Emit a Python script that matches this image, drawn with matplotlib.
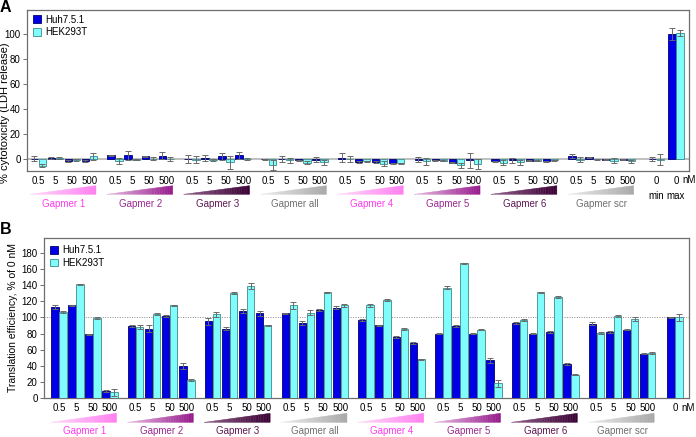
import numpy as np
import matplotlib
matplotlib.use('Agg')
import matplotlib.pyplot as plt
import matplotlib.transforms as mtransforms
from matplotlib.collections import PolyCollection
from matplotlib.colors import LinearSegmentedColormap

plt.rcParams['font.family'] = ['Liberation Sans', 'DejaVu Sans']

# ---- data ----
groups = ['Gapmer 1', 'Gapmer 2', 'Gapmer 3', 'Gapmer all',
          'Gapmer 4', 'Gapmer 5', 'Gapmer 6', 'Gapmer scr']
conc = ['0.5', '5', '50', '500']

# panel A: % cytotoxicity (LDH release), rows = gapmers, cols = conc
ldh_huh = [[0.0, 0.8, -1.6, -1.6],
           [2.9, 2.9, 2.1, 2.7],
           [0.0, 0.8, 2.0, 2.9],
           [-0.3, 0.0, -1.2, -0.8],
           [1.0, -2.5, -2.5, -3.5],
           [-0.5, -1.0, -3.0, -1.0],
           [-2.0, -1.0, -1.5, -2.0],
           [2.1, 1.3, -0.5, -0.7]]
ldh_huh_err = [[2.0, 0.5, 0.5, 0.5],
               [0.5, 3.7, 0.5, 3.0],
               [3.5, 2.5, 3.0, 3.0],
               [0.5, 2.5, 0.5, 2.0],
               [3.5, 0.5, 0.5, 0.5],
               [2.0, 0.5, 0.5, 6.0],
               [0.5, 2.0, 0.5, 0.5],
               [1.5, 0.5, 0.5, 0.5]]
ldh_hek = [[-5.3, 0.8, -0.8, 2.1],
           [-1.6, -0.5, 0.3, 0.0],
           [-0.5, -0.8, -2.7, 0.0],
           [-4.5, -1.0, -3.0, -2.5],
           [0.0, -2.0, -4.0, -3.5],
           [-2.0, -1.5, -5.0, -4.0],
           [-3.0, -2.5, -1.5, -1.0],
           [-0.5, -0.3, -1.5, -2.0]]
ldh_hek_err = [[1.5, 0.5, 0.5, 3.0],
               [2.5, 0.5, 1.0, 1.5],
               [3.0, 0.5, 5.0, 1.0],
               [4.0, 2.0, 1.0, 2.0],
               [2.5, 0.5, 2.0, 0.5],
               [3.0, 0.5, 2.0, 4.0],
               [2.0, 2.0, 0.5, 0.5],
               [2.0, 0.5, 2.0, 1.5]]
ldh_ctrl_labels = ['min', 'max']
ldh_ctrl_huh = [0.0, 100.0]
ldh_ctrl_huh_err = [1.5, 5.0]
ldh_ctrl_hek = [-0.5, 100.5]
ldh_ctrl_hek_err = [4.5, 2.5]

# panel B: translation efficiency, % of 0 nM
te_huh = [[113, 115, 79, 9],
          [89, 86, 102, 40],
          [95, 86, 108, 105],
          [105, 93, 109, 112],
          [97, 90, 76, 68],
          [80, 89, 80, 47],
          [93, 80, 82, 42],
          [92, 82, 85, 55]]
te_huh_err = [[2.5, 1, 1, 1], [1, 4, 1, 4], [4, 2, 2, 3], [1, 2, 1, 2],
              [1, 1, 1, 1], [1, 1, 1, 3], [1, 1, 1, 1], [2, 1, 1, 1]]
te_hek = [[107, 141, 99, 7],
          [88, 104, 115, 22],
          [104, 130, 139, 90],
          [115, 106, 131, 115],
          [115, 122, 86, 48],
          [137, 167, 85, 18],
          [97, 131, 125, 29],
          [81, 102, 98, 56]]
te_hek_err = [[1.5, 1, 1, 4], [2, 1, 1, 1.5], [3, 1, 4, 1], [4, 3, 1, 2],
              [2, 1, 1, 1], [2, 1, 1, 4], [1, 1, 1, 1], [1, 1, 2, 1]]
te_ctrl_huh = [100]
te_ctrl_huh_err = [1]
te_ctrl_hek = [100]
te_ctrl_hek_err = [4]

# ---- styles ----
c_huh = '#0000e6'
c_huh_edge = '#00006e'
c_hek = '#80fcfc'
c_hek_edge = '#3f8a8a'
ramp_light = ['#ffd9fa', '#e6b8e2', '#8c5a86', '#ececec'] * 2
ramp_dark = ['#ff7ef0', '#961a8c', '#3a0034', '#a8a8a8'] * 2
label_cols = ['#ff3cf0', '#9a2a90', '#5c1a52', '#707070'] * 2
fs = 7
w = 0.43
d = 0.235
x_conc = np.array([g * 4.5 + c for g in range(len(groups)) for c in range(len(conc))], dtype=float)


def bars(ax, x, huh, huh_err, hek, hek_err, legend=True):
    lab1, lab2 = ('Huh7.5.1', 'HEK293T') if legend else ('_nolegend_', '_nolegend_')
    ax.bar(x - d, huh, w, color=c_huh, edgecolor=c_huh_edge, linewidth=0.6, zorder=3, label=lab1)
    ax.bar(x + d, hek, w, color=c_hek, edgecolor=c_hek_edge, linewidth=0.6, zorder=3, label=lab2)
    kw = dict(fmt='none', ecolor='#6a6a6a', elinewidth=0.7, capsize=2.3, capthick=0.7, zorder=4)
    ax.errorbar(x - d, huh, yerr=huh_err, **kw)
    ax.errorbar(x + d, hek, yerr=hek_err, **kw)


def ramps(ax, y_bot, y_top, y_txt):
    tr = mtransforms.blended_transform_factory(ax.transData, ax.transAxes)
    n = 40
    for g, name in enumerate(groups):
        x0 = g * 4.5 - 0.48
        x1 = g * 4.5 + 3.38
        cmap = LinearSegmentedColormap.from_list('r', [ramp_light[g], ramp_dark[g]])
        xs = np.linspace(x0, x1, n + 1)
        ys = y_bot + (y_top - y_bot) * (xs - x0) / (x1 - x0)
        polys = [[(xs[i], y_bot), (xs[i + 1], y_bot), (xs[i + 1], ys[i + 1]), (xs[i], ys[i])] for i in range(n)]
        cols = cmap(np.linspace(0, 1, n))
        pc = PolyCollection(polys, facecolors=cols, edgecolors=cols, linewidths=0.3,
                            transform=tr, clip_on=False)
        ax.add_collection(pc, autolim=False)
        ax.text(g * 4.5 + 1.5, y_txt, name, color=label_cols[g], fontsize=fs,
                ha='center', va='center', transform=tr)


def style(ax):
    for s in ax.spines.values():
        s.set_color('#6e6e6e')
        s.set_linewidth(0.9)
    ax.tick_params(axis='y', length=3, width=0.7, color='#6e6e6e', labelsize=fs, pad=1.5)
    ax.tick_params(axis='x', length=0, labelsize=fs, pad=3.8)


fig = plt.figure(figsize=(6.96, 4.37), dpi=100)

# ---- panel A ----
axA = fig.add_axes([27 / 696, 1 - 171 / 437, 662 / 696, 161 / 437])
axA.axhline(0, color='#b4b4b4', lw=1.2, zorder=1)
bars(axA, x_conc, np.ravel(ldh_huh), np.ravel(ldh_huh_err), np.ravel(ldh_hek), np.ravel(ldh_hek_err))
xA_ctrl = np.array([36.2, 37.35])
bars(axA, xA_ctrl, ldh_ctrl_huh, ldh_ctrl_huh_err, ldh_ctrl_hek, ldh_ctrl_hek_err, legend=False)
axA.set_xlim(-0.66, 38.12)
axA.set_ylim(-9.6, 119)
axA.set_yticks(np.arange(0, 101, 20))
axA.set_xticks(np.concatenate([x_conc, xA_ctrl]))
axA.set_xticklabels(conc * len(groups) + ['0', '0'])
style(axA)
trA = mtransforms.blended_transform_factory(axA.transData, axA.transAxes)
axA.text(37.72, -0.056, 'nM', fontsize=fs, ha='left', va='center', transform=trA)
for xc, lab in zip(xA_ctrl, ldh_ctrl_labels):
    axA.text(xc, -0.153, lab, fontsize=fs, ha='center', va='center', transform=trA)
ramps(axA, -0.1447, -0.0913, -0.203)
axA.set_ylabel('% cytotoxicity (LDH release)', fontsize=8)
axA.yaxis.set_label_coords(-0.026, 0.36)
axA.legend(loc='upper left', bbox_to_anchor=(0.009, 0.972), frameon=False, fontsize=fs,
           handlelength=0.8, handleheight=0.8, handletextpad=0.5, labelspacing=0.3,
           borderaxespad=0, borderpad=0)
fig.text(0.0, 1.0, 'A', fontsize=11.5, fontweight='bold', ha='left', va='top')

# ---- panel B ----
axB = fig.add_axes([44 / 696, 1 - 398 / 437, 645 / 696, 160 / 437])
axB.axhline(100, color='#8c8c8c', lw=0.7, ls=(0, (1, 1.5)), zorder=1)
bars(axB, x_conc, np.ravel(te_huh), np.ravel(te_huh_err), np.ravel(te_hek), np.ravel(te_hek_err))
xB_ctrl = np.array([36.1])
bars(axB, xB_ctrl, te_ctrl_huh, te_ctrl_huh_err, te_ctrl_hek, te_ctrl_hek_err, legend=False)
axB.set_xlim(-0.87, 36.92)
axB.set_ylim(0, 198.6)
axB.set_yticks(np.arange(0, 181, 20))
axB.set_xticks(np.concatenate([x_conc, xB_ctrl]))
axB.set_xticklabels(conc * len(groups) + ['0'])
style(axB)
trB = mtransforms.blended_transform_factory(axB.transData, axB.transAxes)
axB.text(36.5, -0.0625, 'nM', fontsize=fs, ha='left', va='center', transform=trB)
ramps(axB, -0.152, -0.0956, -0.206)
axB.set_ylabel('Translation efficiency, % of 0 nM', fontsize=7.5)
axB.yaxis.set_label_coords(-0.041, 0.5)
axB.legend(loc='upper left', bbox_to_anchor=(0.009, 0.955), frameon=False, fontsize=fs,
           handlelength=0.8, handleheight=0.8, handletextpad=0.5, labelspacing=0.3,
           borderaxespad=0, borderpad=0)
fig.text(0.0, 1 - 222 / 437, 'B', fontsize=11.5, fontweight='bold', ha='left', va='top')

fig.savefig('out.png', dpi=100)
